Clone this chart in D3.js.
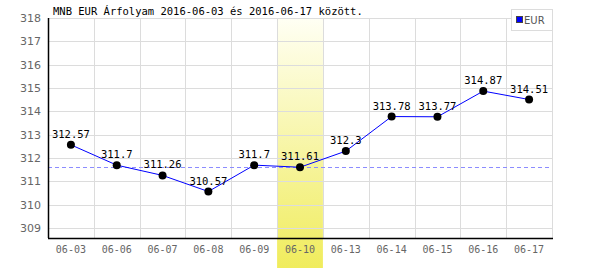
<!DOCTYPE html>
<html>
<head>
<meta charset="utf-8">
<script src="https://cdn.jsdelivr.net/npm/d3@7"></script>
<style>
  body { margin: 0; background: #fff; }
  svg { display: block; }
</style>
</head>
<body>
<svg></svg>
<script>
const dates = ["06-03", "06-06", "06-07", "06-08", "06-09", "06-10", "06-13", "06-14", "06-15", "06-16", "06-17"];
const rates = [312.57, 311.7, 311.26, 310.57, 311.7, 311.61, 312.3, 313.78, 313.77, 314.87, 314.51];
const yTicks = [309, 310, 311, 312, 313, 314, 315, 316, 317, 318];
const highlightDate = "06-10";
const refValue = 311.61;
const title = "MNB EUR Árfolyam 2016-06-03 és 2016-06-17 között.";

const W = 600, H = 270;
const margin = {top: 18, right: 48, bottom: 32, left: 48};
const width = W - margin.left - margin.right,
      height = H - margin.top - margin.bottom;

const svg = d3.select("svg").attr("width", W).attr("height", H)
const g = svg.append("g").attr("transform", `translate(${margin.left},${margin.top})`);

const x = d3.scaleBand().domain(dates).range([0, width]);
const y = d3.scaleLinear().domain([308.58, 318]).range([height, 0]);

// highlight gradient
const grad = svg.append("defs").append("linearGradient")
    .attr("id", "hl").attr("x1", 0).attr("y1", 0).attr("x2", 0).attr("y2", 1);
grad.append("stop").attr("offset", "0%").attr("stop-color", "#fffff4");
grad.append("stop").attr("offset", "100%").attr("stop-color", "#f0ec5c");

g.append("rect")
    .attr("x", x(highlightDate))
    .attr("y", 0)
    .attr("width", x.bandwidth())
    .attr("height", height + 30)
    .attr("fill", "url(#hl)");

// grid
g.selectAll(".hgrid").data(yTicks).join("line")
    .attr("x1", 0).attr("x2", width)
    .attr("y1", d => Math.round(y(d)) + 0.5).attr("y2", d => Math.round(y(d)) + 0.5)
    .attr("stroke", "#dcdcdc");

g.selectAll(".vgrid").data(dates).join("line")
    .attr("x1", d => Math.round(x(d) + x.bandwidth()) + 0.5)
    .attr("x2", d => Math.round(x(d) + x.bandwidth()) + 0.5)
    .attr("y1", 0).attr("y2", height)
    .attr("stroke", "#dcdcdc");

// reference line (value of the highlighted day)
g.append("line")
    .attr("x1", 0).attr("x2", width)
    .attr("y1", Math.round(y(refValue)) + 0.5).attr("y2", Math.round(y(refValue)) + 0.5)
    .attr("stroke", "#8c8cff")
    .attr("stroke-dasharray", "4,3");

// axes
g.append("line").attr("x1", 0.5).attr("x2", 0.5).attr("y1", 0).attr("y2", height)
    .attr("stroke", "#000").attr("stroke-width", 1.5);
g.append("line").attr("x1", 0).attr("x2", width + 1).attr("y1", height + 0.5).attr("y2", height + 0.5)
    .attr("stroke", "#000").attr("stroke-width", 1.5);

g.selectAll(".ylab").data(yTicks).join("text")
    .attr("x", -7).attr("y", d => y(d) + 4)
    .attr("text-anchor", "end")
    .style("font-family", "DejaVu Sans, sans-serif")
    .style("font-size", "11px")
    .attr("fill", "#666")
    .text(d => d);

g.selectAll(".xlab").data(dates).join("text")
    .attr("x", d => x(d) + x.bandwidth() / 2)
    .attr("y", height + 15)
    .attr("text-anchor", "middle")
    .style("font-family", "DejaVu Sans Mono, monospace")
    .style("font-size", "10px")
    .attr("fill", "#666")
    .text(d => d);

// line + points
const line = d3.line()
    .x((d, i) => x(dates[i]) + x.bandwidth() / 2)
    .y(d => y(d));

g.append("path").datum(rates)
    .attr("d", line)
    .attr("fill", "none")
    .attr("stroke", "#0000ff")
    .attr("stroke-width", 1);

g.selectAll(".pt").data(rates).join("circle")
    .attr("cx", (d, i) => x(dates[i]) + x.bandwidth() / 2)
    .attr("cy", d => y(d))
    .attr("r", 4)
    .attr("fill", "#000");

g.selectAll(".val").data(rates).join("text")
    .attr("x", (d, i) => x(dates[i]) + x.bandwidth() / 2)
    .attr("y", d => y(d) - 7)
    .attr("text-anchor", "middle")
    .style("font-family", "DejaVu Sans Mono, monospace")
    .style("font-size", "10.5px")
    .attr("fill", "#000")
    .text(d => d);

// title
svg.append("text")
    .attr("x", 53).attr("y", 15)
    .style("font-family", "DejaVu Sans Mono, monospace")
    .style("font-size", "10.5px")
    .attr("fill", "#000")
    .text(title);

// legend
const lg = svg.append("g").attr("transform", "translate(511,9)");
lg.append("rect").attr("x", 0.5).attr("y", 0.5).attr("width", 41).attr("height", 21)
    .attr("fill", "#fff").attr("stroke", "#dcdcdc");
lg.append("rect").attr("x", 5.5).attr("y", 7.5).attr("width", 6).attr("height", 6)
    .attr("fill", "#0000ff").attr("stroke", "#444");
lg.append("text").attr("x", 13).attr("y", 15)
    .style("font-family", "DejaVu Sans, sans-serif")
    .style("font-size", "10px")
    .attr("fill", "#555")
    .text("EUR");
</script>
</body>
</html>
